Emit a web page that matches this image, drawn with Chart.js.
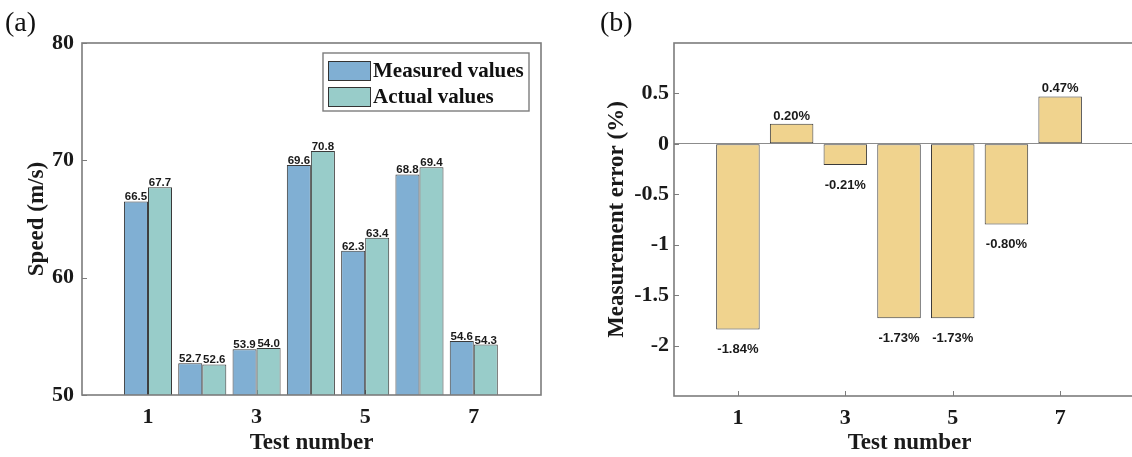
<!DOCTYPE html>
<html>
<head>
<meta charset="utf-8">
<script src="https://cdn.jsdelivr.net/npm/chart.js@4.4.0/dist/chart.umd.min.js"></script>
<style>
    html, body { margin: 0; padding: 0; background: #fff; overflow: hidden; width: 1132px; height: 457px; }
    .panel { position: absolute; top: 0; height: 457px; }
    .tag { position: absolute; top: 6px; font: 28px "Liberation Serif", "Times New Roman", serif; color: #111; z-index: 2; }
</style>
</head>
<body>
<div class="panel" style="left:0;width:600px"><canvas id="speedChart" width="600" height="457"></canvas></div>
<div class="panel" style="left:600px;width:560px"><canvas id="errorChart" width="560" height="457"></canvas></div>
<div class="tag" style="left:5px">(a)</div>
<div class="tag" style="left:600px">(b)</div>
<script>
// Chart data
const testNumbers = [1, 2, 3, 4, 5, 6, 7];
const xTickValues = [1, 3, 5, 7];
const measuredValues = [66.5, 52.7, 53.9, 69.6, 62.3, 68.8, 54.6];
const actualValues = [67.7, 52.6, 54.0, 70.8, 63.4, 69.4, 54.3];
const errorValues = [-1.84, 0.20, -0.21, -1.73, -1.73, -0.80, 0.47];
const speedTicks = [50, 60, 70, 80];
const errorTicks = [-2, -1.5, -1, -0.5, 0, 0.5];

const serif = '"Liberation Serif", "Times New Roman", serif';
const tickFont = { family: serif, size: 22, weight: 'bold' };
const titleFont = { family: serif, size: 23, weight: 'bold' };
const axisGray = '#7c7c7c';

// MATLAB style inward ticks and box frame
const matlabAxes = {
    id: 'matlabAxes',
    beforeDatasetsDraw(chart) {
        const { ctx, chartArea: a, scales: { x, y } } = chart;
        ctx.save();
        ctx.strokeStyle = axisGray;
        ctx.lineWidth = 1;
        y.ticks.forEach(t => {
            const py = Math.round(y.getPixelForValue(t.value)) + 0.5;
            ctx.beginPath(); ctx.moveTo(a.left, py); ctx.lineTo(a.left + 5, py); ctx.stroke();
        });
        x.ticks.forEach(t => {
            const px = Math.round(x.getPixelForValue(t.value)) + 0.5;
            ctx.beginPath(); ctx.moveTo(px, a.bottom); ctx.lineTo(px, a.bottom - 5); ctx.stroke();
        });
        ctx.restore();
    },
    afterDatasetsDraw(chart) {
        const { ctx, chartArea: a } = chart;
        ctx.save();
        ctx.strokeStyle = axisGray;
        ctx.lineWidth = 1.6;
        ctx.strokeRect(a.left, a.top, a.right - a.left, a.bottom - a.top);
        ctx.restore();
    }
};

// value labels above / below bars
const valueLabels = {
    id: 'valueLabels',
    afterDatasetsDraw(chart, args, opts) {
        const ctx = chart.ctx;
        ctx.save();
        ctx.font = opts.font;
        ctx.fillStyle = '#1a1a1a';
        ctx.textAlign = 'center';
        chart.data.datasets.forEach((ds, di) => {
            chart.getDatasetMeta(di).data.forEach((bar, i) => {
                const v = ds.data[i].y;
                const text = v.toFixed(opts.decimals) + opts.suffix;
                if (v >= 0) {
                    ctx.textBaseline = 'alphabetic';
                    ctx.fillText(text, bar.x, bar.y - opts.above);
                } else {
                    ctx.textBaseline = 'middle';
                    ctx.fillText(text, bar.x, bar.y + opts.below);
                }
            });
        });
        ctx.restore();
    }
};

// boxed legend inside the plot
const boxLegend = {
    id: 'boxLegend',
    afterDraw(chart, args, opts) {
        if (!opts.show) return;
        const { ctx, chartArea } = chart;
        const w = 206, h = 58;
        const x = chartArea.right - 12 - w, y = chartArea.top + 10;
        ctx.save();
        ctx.fillStyle = '#fff';
        ctx.fillRect(x, y, w, h);
        ctx.strokeStyle = axisGray;
        ctx.lineWidth = 1.4;
        ctx.strokeRect(x, y, w, h);
        ctx.font = 'bold 21px ' + serif;
        ctx.textBaseline = 'middle';
        ctx.textAlign = 'left';
        chart.data.datasets.forEach((ds, i) => {
            const cy = y + 18 + i * 26;
            ctx.fillStyle = ds.backgroundColor;
            ctx.fillRect(x + 5, cy - 9, 42, 19);
            ctx.strokeStyle = '#333';
            ctx.lineWidth = 1;
            ctx.strokeRect(x + 5.5, cy - 9.5, 42, 19);
            ctx.fillStyle = '#111';
            ctx.fillText(ds.label, x + 50, cy + 1);
        });
        ctx.restore();
    }
};

function points(values) {
    return testNumbers.map((n, i) => ({ x: n, y: values[i] }));
}

function xScale(min, max, height) {
    return {
        type: 'linear',
        min: min,
        max: max,
        offset: false,
        grid: { display: false },
        border: { display: false },
        afterBuildTicks: s => { s.ticks = xTickValues.map(v => ({ value: v })); },
        afterFit: s => { s.height = height; },
        ticks: { font: tickFont, color: '#1a1a1a', padding: 1, maxRotation: 0, callback: v => String(v) },
        title: { display: true, text: 'Test number', font: titleFont, color: '#1a1a1a', padding: { top: 0, bottom: 0 } }
    };
}

// (a) speed chart
new Chart(document.getElementById('speedChart'), {
    type: 'bar',
    data: {
        datasets: [
            { label: 'Measured values', data: points(measuredValues), backgroundColor: '#80afd3', borderColor: '#3a3a3a', borderWidth: 1, borderSkipped: false },
            { label: 'Actual values', data: points(actualValues), backgroundColor: '#98ccc9', borderColor: '#3a3a3a', borderWidth: 1, borderSkipped: false }
        ]
    },
    options: {
        responsive: false,
        animation: false,
        categoryPercentage: 0.885,
        barPercentage: 1.0,
        layout: { padding: { top: 43, right: 59, left: 0, bottom: 0 } },
        plugins: {
            legend: { display: false },
            tooltip: { enabled: false },
            valueLabels: { font: 'bold 11.5px "Liberation Sans", Arial, sans-serif', decimals: 1, suffix: '', above: 1, below: 0 },
            boxLegend: { show: true }
        },
        scales: {
            x: xScale(-0.215, 8.238, 62),
            y: {
                min: 50,
                max: 80,
                grid: { display: false },
                border: { display: false },
                afterBuildTicks: s => { s.ticks = speedTicks.map(v => ({ value: v })); },
                afterFit: s => { s.width = 82; },
                ticks: { font: tickFont, color: '#1a1a1a', padding: 0, callback: v => String(v) },
                title: { display: true, text: 'Speed (m/s)', font: titleFont, color: '#1a1a1a', padding: { top: 23, bottom: 0 } }
            }
        }
    },
    plugins: [matlabAxes, valueLabels, boxLegend]
});

// (b) measurement error chart
new Chart(document.getElementById('errorChart'), {
    type: 'bar',
    data: {
        datasets: [
            { label: 'Measurement error', data: points(errorValues), backgroundColor: '#f0d38e', borderColor: '#3a3a3a', borderWidth: 1, borderSkipped: false }
        ]
    },
    options: {
        responsive: false,
        animation: false,
        categoryPercentage: 0.81,
        barPercentage: 1.0,
        layout: { padding: { top: 43, right: 15, left: 0, bottom: 0 } },
        plugins: {
            legend: { display: false },
            tooltip: { enabled: false },
            valueLabels: { font: 'bold 13px "Liberation Sans", Arial, sans-serif', decimals: 2, suffix: '%', above: 4, below: 20 },
            boxLegend: { show: false }
        },
        scales: {
            x: xScale(-0.19, 8.58, 61),
            y: {
                min: -2.5,
                max: 1.0,
                grid: {
                    drawTicks: false,
                    lineWidth: 1,
                    color: c => (c.tick && c.tick.value === 0 ? '#8c8c8c' : 'rgba(0,0,0,0)')
                },
                border: { display: false },
                afterBuildTicks: s => { s.ticks = errorTicks.map(v => ({ value: v })); },
                afterFit: s => { s.width = 74; },
                ticks: { font: tickFont, color: '#1a1a1a', padding: 5, callback: v => String(v) },
                title: { display: true, text: 'Measurement error (%)', font: titleFont, color: '#1a1a1a', padding: { top: 3, bottom: 0 } }
            }
        }
    },
    plugins: [matlabAxes, valueLabels, boxLegend]
});
</script>
</body>
</html>
